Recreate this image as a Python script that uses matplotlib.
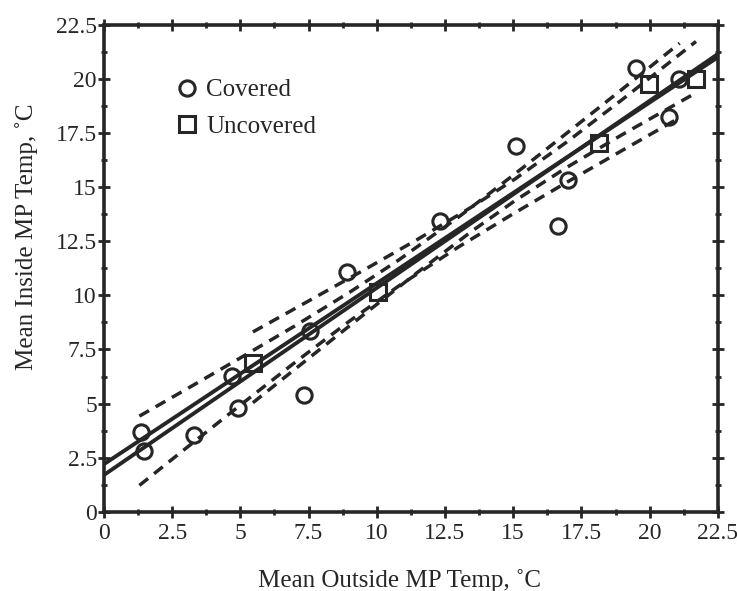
import numpy as np
import matplotlib
matplotlib.use("Agg")
import matplotlib.pyplot as plt

plt.rcParams['font.family'] = ['Liberation Serif', 'DejaVu Serif']

# scatter data
cov_x = [1.36, 1.47, 3.30, 4.69, 4.91, 7.33, 7.55, 8.90, 12.31, 15.10, 16.65, 17.00, 19.50, 20.70, 21.07]
cov_y = [3.70, 2.82, 3.56, 6.28, 4.81, 5.41, 8.36, 11.09, 13.45, 16.91, 13.20, 15.34, 20.50, 18.25, 20.00]
unc_x = [5.46, 10.04, 18.14, 19.97, 21.70]
unc_y = [6.88, 10.17, 17.05, 19.78, 20.00]

# fitted lines (end points)
lineA_x = [0, 22.5]
lineA_y = [2.20, 21.00]
lineB_x = [0, 22.5]
lineB_y = [1.70, 21.15]

# dashed bands, covered
band1_x = [1.3, 3, 5, 7, 9, 10.8, 13, 15, 17, 19, 21.1]
band1_hi = [4.42, 5.65, 7.11, 8.59, 10.14, 11.63, 13.62, 15.55, 17.53, 19.53, 21.65]
band1_lo = [1.22, 2.93, 4.93, 6.90, 8.81, 10.43, 12.24, 13.77, 15.25, 16.70, 18.21]
# dashed bands, uncovered
band2_x = [5.46, 7.5, 9.5, 11.5, 13.5, 15.06, 17, 19, 21.7]
band2_hi = [8.31, 9.74, 11.15, 12.59, 14.10, 15.37, 17.12, 19.05, 21.73]
band2_lo = [5.04, 7.09, 9.09, 11.07, 12.98, 14.37, 15.94, 17.43, 19.36]

ink = '#262626'

fig = plt.figure(figsize=(7.37, 5.91), dpi=100)
ax = fig.add_axes([0.141, 0.134, 0.833, 0.824])

dash = dict(color=ink, lw=2.5, dashes=(3.2, 2.2))
ax.plot(band1_x, band1_hi, **dash)
ax.plot(band1_x, band1_lo, **dash)
ax.plot(band2_x, band2_hi, **dash)
ax.plot(band2_x, band2_lo, **dash)

ax.plot(lineA_x, lineA_y, color=ink, lw=2.8, solid_capstyle='butt')
ax.plot(lineB_x, lineB_y, color=ink, lw=2.8, solid_capstyle='butt')

ax.plot(cov_x, cov_y, 'o', ms=11, mfc='none', mec=ink, mew=2.2, label='Covered')
ax.plot(unc_x, unc_y, 's', ms=11, mfc='none', mec=ink, mew=2.2, label='Uncovered')

ax.set_xlim(0, 22.5)
ax.set_ylim(0, 22.5)
ticks = np.arange(0, 22.6, 2.5)
labels = ['0', '2.5', '5', '7.5', '10', '12.5', '15', '17.5', '20', '22.5']
ax.set_xticks(ticks)
ax.set_xticklabels(labels)
ax.set_yticks(ticks)
ax.set_yticklabels(labels)
ax.set_xticks(np.arange(1.25, 22.5, 2.5), minor=True)
ax.set_yticks(np.arange(1.25, 22.5, 2.5), minor=True)
ax.tick_params(which='both', direction='inout', top=True, right=True,
               width=2, color=ink, labelsize=17, labelcolor=ink)
ax.tick_params(axis='x', pad=4)
ax.tick_params(axis='y', pad=1)
ax.tick_params(which='major', length=8)
ax.tick_params(which='minor', length=5)
for s in ax.spines.values():
    s.set_linewidth(2.6)
    s.set_color(ink)

ax.set_xlabel('Mean Outside MP Temp, \u02daC', fontsize=18, color=ink)
ax.set_ylabel('Mean Inside MP Temp, \u02daC', fontsize=18, color=ink)
ax.xaxis.set_label_coords(0.482, -0.118)
ax.yaxis.set_label_coords(-0.108, 0.565)

ax.legend(loc='upper left', bbox_to_anchor=(0.087, 0.935), frameon=False,
          fontsize=18, handlelength=0.6, handletextpad=0.45, labelspacing=0.55,
          labelcolor=ink)

fig.savefig('out.png', dpi=100)
